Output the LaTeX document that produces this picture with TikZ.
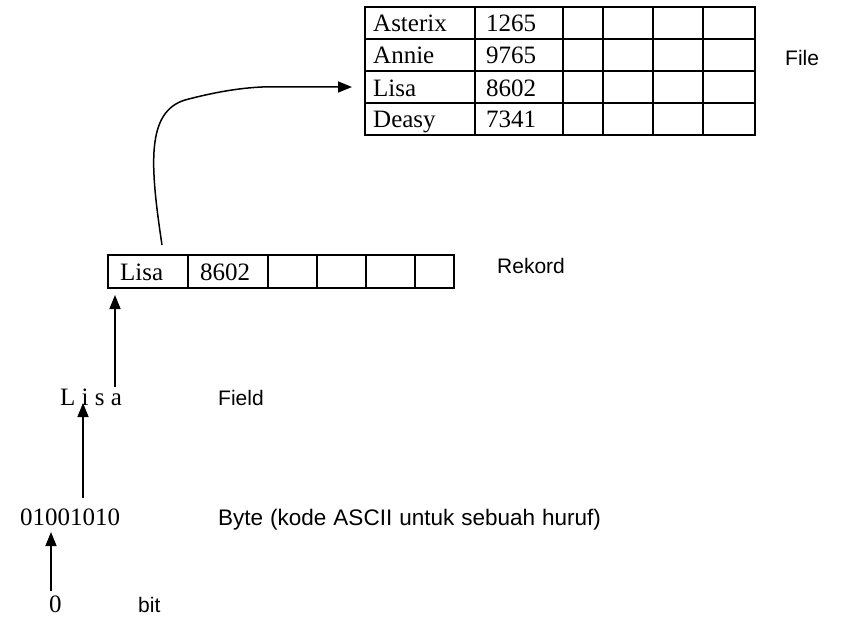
\documentclass[tikz,border=0pt]{standalone}
\usepackage{fontspec}
\setmainfont{Liberation Serif}
\setsansfont{Liberation Sans}
\usetikzlibrary{arrows.meta}
\begin{document}
\begin{tikzpicture}[x=1pt,y=-1pt,
  serif/.style={font=\fontsize{25}{25}\selectfont, inner sep=0pt, anchor=base west},
  sans/.style={font=\sffamily\fontsize{21}{21}\selectfont, inner sep=0pt, anchor=base west},
  gridline/.style={line width=2pt, line cap=rect},
  arr/.style={line width=1.5pt, -{Triangle[length=14pt,width=11pt]}}]
\useasboundingbox (0,0) rectangle (844,618);
% File table
\foreach \x in {365,475,563,603,653,703,755} \draw[gridline] (\x,7) -- (\x,135);
\foreach \y in {7,39,71,103,135} \draw[gridline] (365,\y) -- (755,\y);
\node[serif] (f1n) at (373,32) {Asterix};
\node[serif] (f1v) at (486,32) {1265};
\node[serif] (f2n) at (373,64) {Annie};
\node[serif] (f2v) at (486,64) {9765};
\node[serif] (f3n) at (373,96) {Lisa};
\node[serif] (f3v) at (486,96) {8602};
\node[serif] (f4n) at (373,128) {Deasy};
\node[serif] (f4v) at (486,128) {7341};
\coordinate (fileIn) at (352,87);
\node[sans] (lfile) at (785,66) {File};
% Rekord
\draw[gridline] (108,288) -- (108,255) -- (454,255) -- (454,288);
\draw[line width=1.5pt] (108,288) -- (454,288);
\foreach \x in {188,268,317,366,415} \draw[gridline] (\x,255) -- (\x,288);
\node[serif] (rn) at (120,280) {Lisa};
\node[serif] (rv) at (200,280) {8602};
\coordinate (rekOut) at (162,245);
\coordinate (rekIn) at (115,295);
\node[sans] (lrek) at (497,273) {Rekord};
% Field
\node[serif] (field) at (60,405) {L i s a};
\coordinate (fieldOut) at (115,387);
\coordinate (fieldIn) at (83,403);
\node[sans] (lfield) at (218,405) {Field};
% Byte
\node[serif] (byte) at (20,525) {01001010};
\coordinate (byteOut) at (83,498);
\coordinate (byteIn) at (51,532);
\node[sans, font=\sffamily\fontsize{22.5}{22.5}\selectfont] (lbyte) at (218,525)
  {\spaceskip=7pt Byte (kode ASCII untuk sebuah huruf)};
% bit
\node[serif] (bit) at (49,612) {0};
\coordinate (bitOut) at (51,591);
\node[sans] (lbit) at (138,612) {bit};
% connectors
\draw[arr] (rekOut) .. controls (150,165) and (146,112) .. (185,100)
  .. controls (215,92) and (240,88) .. (262,87) -- (fileIn);
\draw[arr] (fieldOut) -- (rekIn);
\draw[arr] (byteOut) -- (fieldIn);
\draw[arr] (bitOut) -- (byteIn);
\end{tikzpicture}
\end{document}
